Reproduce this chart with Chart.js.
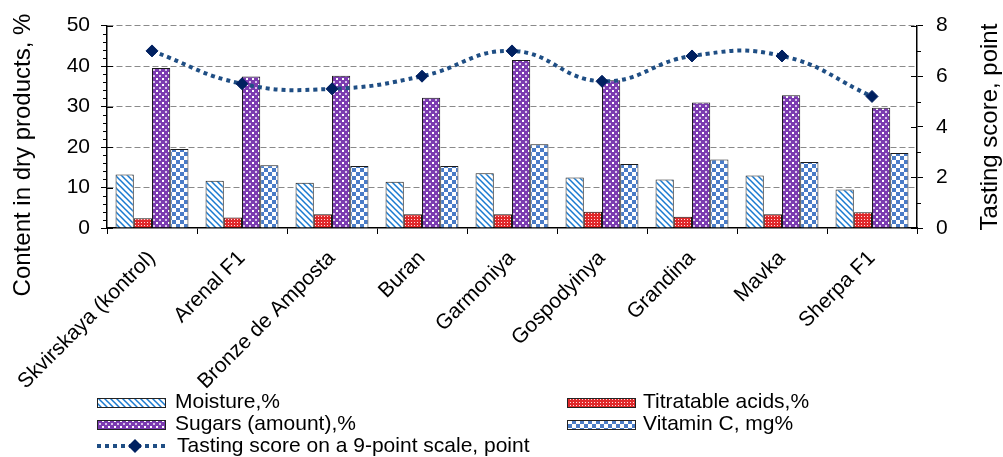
<!DOCTYPE html>
<html>
<head>
<meta charset="utf-8">
<script src="https://cdn.jsdelivr.net/npm/chart.js@4.4.1/dist/chart.umd.min.js"></script>
<style>
  html, body { margin: 0; padding: 0; background: #fff; }
  canvas { display: block; }
</style>
</head>
<body>
<canvas id="chart" width="1003" height="457"></canvas>
<script>
/* chart data */
const categories = ["Skvirskaya (kontrol)", "Arenal F1", "Bronze de Amposta", "Buran", "Garmoniya", "Gospodyinya", "Grandina", "Mavka", "Sherpa F1"];
const moisture = [13.2, 11.7, 11.2, 11.4, 13.5, 12.5, 12.0, 13.0, 9.5];
const acids = [2.4, 2.6, 3.4, 3.4, 3.4, 4.0, 2.8, 3.4, 3.9];
const sugars = [39.5, 37.4, 37.6, 32.2, 41.5, 36.5, 31.0, 32.8, 29.7];
const vitaminC = [19.5, 15.5, 15.3, 15.3, 20.7, 15.8, 16.9, 16.3, 18.5];
const tasting = [7.0, 5.7, 5.5, 6.0, 7.0, 5.8, 6.8, 6.8, 5.2];
const leftTicks = [0, 10, 20, 30, 40, 50];
const rightTicks = [0, 2, 4, 6, 8];

const FONT = "'Liberation Sans', Arial, sans-serif";
Chart.defaults.font.family = FONT;
Chart.defaults.color = "#000";

/* fill patterns */
function makePattern(size, draw) {
  const c = document.createElement("canvas");
  c.width = c.height = size;
  const g = c.getContext("2d");
  draw(g, size);
  return g.createPattern(c, "repeat");
}

const patMoisture = makePattern(6, (g, s) => {
  g.fillStyle = "#fff";
  g.fillRect(0, 0, s, s);
  g.strokeStyle = "#1a7ad0";
  g.lineWidth = 1.5;
  g.beginPath();
  g.moveTo(-1, -1); g.lineTo(s + 1, s + 1);
  g.moveTo(-1, s - 1); g.lineTo(1, s + 1);
  g.moveTo(s - 1, -1); g.lineTo(s + 1, 1);
  g.stroke();
});

const patAcids = makePattern(3, (g, s) => {
  g.fillStyle = "#e0282a";
  g.fillRect(0, 0, s, s);
  g.fillStyle = "#fbe0e0";
  g.fillRect(0, 0, 1, 1);
});

const patSugars = makePattern(6, (g, s) => {
  g.fillStyle = "#7b3bb0";
  g.fillRect(0, 0, s, s);
  g.fillStyle = "#fff";
  g.fillRect(0, 0, 2, 2);
  g.fillStyle = "#d8c2ea";
  g.fillRect(3, 3, 2, 2);
});

const patVitC = makePattern(8, (g, s) => {
  g.fillStyle = "#fff";
  g.fillRect(0, 0, s, s);
  g.fillStyle = "#4a7cc7";
  g.fillRect(0, 0, 4, 4);
  g.fillRect(4, 4, 4, 4);
});

const LINE_COLOR = "#1f4e84";
const MARKER_COLOR = "#002060";

function verticalText(ctx, text, x, y, size) {
  ctx.save();
  ctx.translate(x, y);
  ctx.rotate(-Math.PI / 2);
  ctx.font = size + "px " + FONT;
  ctx.fillStyle = "#000";
  ctx.textAlign = "center";
  ctx.textBaseline = "alphabetic";
  ctx.fillText(text, 0, 0);
  ctx.restore();
}

/* extra drawing: minor ticks, crossing major ticks, axis titles, legend */
const extras = {
  id: "extras",
  afterDraw(chart) {
    const { ctx, chartArea } = chart;
    const y = chart.scales.y, y1 = chart.scales.y1;
    ctx.save();
    ctx.strokeStyle = "#000";
    ctx.lineWidth = 1;
    ctx.beginPath();
    for (let v = 0; v <= 50; v += 2) {
      const py = Math.round(y.getPixelForValue(v)) + 0.5;
      if (v % 10 === 0) {
        ctx.moveTo(chartArea.left, py); ctx.lineTo(chartArea.left + 6, py);
      } else {
        ctx.moveTo(chartArea.left - 4, py); ctx.lineTo(chartArea.left, py);
      }
    }
    for (let v = 0; v <= 8; v += 1) {
      const py = Math.round(y1.getPixelForValue(v)) + 0.5;
      if (v % 2 === 0) {
        ctx.moveTo(chartArea.right - 6, py); ctx.lineTo(chartArea.right, py);
      } else {
        ctx.moveTo(chartArea.right, py); ctx.lineTo(chartArea.right + 4, py);
      }
    }
    ctx.stroke();

    // axis titles, both reading bottom to top
    verticalText(ctx, "Content in dry products, %", 30, 155, 24);
    verticalText(ctx, "Tasting score, point", 997, 127, 24);

    // legend
    const ds = chart.data.datasets;
    const slots = [
      { i: 0, x: 97, tx: 175, y: 402 }, { i: 1, x: 567, tx: 643, y: 402 },
      { i: 2, x: 97, tx: 175, y: 424 }, { i: 3, x: 567, tx: 643, y: 424 }
    ];
    ctx.font = "21px " + FONT;
    ctx.textBaseline = "middle";
    ctx.textAlign = "left";
    slots.forEach(s => {
      ctx.fillStyle = ds[s.i].backgroundColor;
      ctx.fillRect(s.x, s.y - 4, 68, 9);
      ctx.strokeStyle = "#222";
      ctx.lineWidth = 1;
      ctx.strokeRect(s.x + 0.5, s.y - 3.5, 68, 9);
      ctx.fillStyle = "#000";
      ctx.fillText(ds[s.i].label, s.tx, s.y);
    });
    const ly = 446;
    ctx.strokeStyle = LINE_COLOR;
    ctx.lineWidth = 4;
    ctx.setLineDash([4, 4]);
    ctx.beginPath();
    ctx.moveTo(97, ly); ctx.lineTo(168, ly);
    ctx.stroke();
    ctx.setLineDash([]);
    ctx.fillStyle = MARKER_COLOR;
    ctx.beginPath();
    ctx.moveTo(135, ly - 7); ctx.lineTo(142, ly); ctx.lineTo(135, ly + 7); ctx.lineTo(128, ly);
    ctx.closePath();
    ctx.fill();
    ctx.fillStyle = "#000";
    ctx.fillText(ds[4].label, 177, ly);
    ctx.restore();
  }
};

function barSet(label, data, fill) {
  return {
    label, data,
    backgroundColor: fill,
    borderColor: "#1a1a1a",
    borderWidth: 1,
    yAxisID: "y",
    order: 1
  };
}

new Chart(document.getElementById("chart"), {
  type: "bar",
  data: {
    labels: categories,
    datasets: [
      barSet("Moisture,%", moisture, patMoisture),
      barSet("Titratable acids,%", acids, patAcids),
      barSet("Sugars (amount),%", sugars, patSugars),
      barSet("Vitamin C, mg%", vitaminC, patVitC),
      {
        type: "line",
        label: "Tasting score on a 9-point scale, point",
        data: tasting,
        yAxisID: "y1",
        borderColor: LINE_COLOR,
        borderWidth: 4,
        borderDash: [4, 4],
        tension: 0.45,
        fill: false,
        pointStyle: "rectRot",
        pointRadius: 6,
        pointBackgroundColor: MARKER_COLOR,
        pointBorderColor: MARKER_COLOR,
        pointBorderWidth: 1,
        order: 0
      }
    ]
  },
  options: {
    responsive: false,
    animation: false,
    layout: { padding: { top: 25, left: 0, right: 0, bottom: 0 } },
    datasets: { bar: { categoryPercentage: 0.81, barPercentage: 1 } },
    plugins: { legend: { display: false }, tooltip: { enabled: false } },
    scales: {
      x: {
        offset: true,
        grid: { offset: true, drawOnChartArea: false, color: "#000", tickLength: 6 },
        border: { color: "#000", width: 1.5 },
        ticks: { minRotation: 45, maxRotation: 45, autoSkip: false, padding: 12, font: { size: 21 } },
        afterFit: s => { s.height = 229; }
      },
      y: {
        position: "left",
        min: 0, max: 50,
        afterBuildTicks: s => { s.ticks = leftTicks.map(v => ({ value: v })); },
        grid: {
          color: c => (c.tick && c.tick.value === 0 ? "rgba(0,0,0,0)" : "#8a8a8a"),
          tickColor: "#000",
          tickLength: 6,
          lineWidth: 1
        },
        border: { color: "#000", width: 1.5, dash: [6, 3] },
        ticks: { padding: 11, font: { size: 21 } },
        afterFit: s => { s.width = 107; }
      },
      y1: {
        position: "right",
        min: 0, max: 8,
        afterBuildTicks: s => { s.ticks = rightTicks.map(v => ({ value: v })); },
        grid: { drawOnChartArea: false, tickColor: "#000", tickLength: 6 },
        border: { color: "#000", width: 1.5 },
        ticks: { padding: 13, font: { size: 21 } },
        afterFit: s => { s.width = 86; }
      }
    }
  },
  plugins: [extras]
});
</script>
</body>
</html>
